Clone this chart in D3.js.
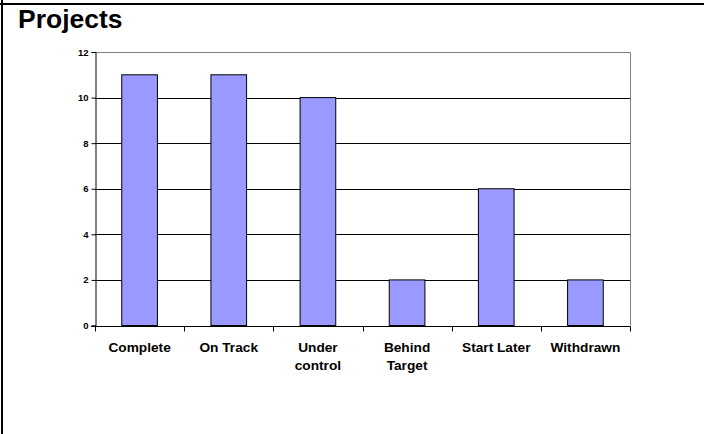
<!DOCTYPE html>
<html>
<head>
<meta charset="utf-8">
<script src="https://cdn.jsdelivr.net/npm/d3@7"></script>
<style>
  html, body { margin: 0; padding: 0; background: #fff; }
  svg { display: block; font-family: Arial, "Liberation Sans", sans-serif; }
</style>
</head>
<body>
<svg id="chart" width="704" height="434"></svg>
<script>
// Project status counts
const categories = ["Complete", "On Track", "Under control", "Behind Target", "Start Later", "Withdrawn"];
const categoryLines = [["Complete"], ["On Track"], ["Under", "control"], ["Behind", "Target"], ["Start Later"], ["Withdrawn"]];
const values = [11, 11, 10, 2, 6, 2];
const yTicks = [0, 2, 4, 6, 8, 10, 12];

const svg = d3.select("#chart");
const W = 704, H = 434;
const plot = { left: 95, right: 630, top: 52, bottom: 325.5 };

// Outer frame (top and left edges)
svg.append("line").attr("x1", 0).attr("x2", W).attr("y1", 4).attr("y2", 4)
  .attr("stroke", "#000").attr("stroke-width", 2);
svg.append("line").attr("x1", 2).attr("x2", 2).attr("y1", 0).attr("y2", H)
  .attr("stroke", "#000").attr("stroke-width", 2);

// Title
svg.append("text").attr("x", 18).attr("y", 28)
  .attr("font-size", 26.5).attr("font-weight", "bold").attr("fill", "#000")
  .text("Projects");

const x = d3.scaleBand().domain(categories).range([plot.left, plot.right]).paddingInner(0).paddingOuter(0);
const y = d3.scaleLinear().domain([0, 12]).range([plot.bottom, plot.top]);

// Horizontal gridlines
svg.append("g").selectAll("line").data(yTicks.filter(t => t > 0 && t < 12)).join("line")
  .attr("x1", plot.left).attr("x2", plot.right)
  .attr("y1", d => Math.round(y(d)) + 0.5).attr("y2", d => Math.round(y(d)) + 0.5)
  .attr("stroke", "#000").attr("stroke-width", 1);

// Plot area border (top and right)
svg.append("path")
  .attr("d", `M${plot.left},${Math.round(plot.top) + 0.5}H${plot.right + 0.5}V${plot.bottom}`)
  .attr("fill", "none").attr("stroke", "#808080").attr("stroke-width", 1);

// Bars
const barW = x.bandwidth() * 0.4;
svg.append("g").selectAll("rect").data(values).join("rect")
  .attr("x", (d, i) => x(categories[i]) + (x.bandwidth() - barW) / 2)
  .attr("width", barW)
  .attr("y", d => y(d))
  .attr("height", d => y(0) - y(d))
  .attr("fill", "#9999FF").attr("stroke", "#000").attr("stroke-width", 1);

// Y axis
const yAxis = d3.axisLeft(y).tickValues(yTicks).tickSize(4).tickPadding(3);
const gy = svg.append("g").attr("transform", `translate(${plot.left + 0.5},0)`).call(yAxis);
gy.select(".domain").attr("stroke", "#000");
gy.selectAll(".tick line").attr("stroke", "#000");
gy.selectAll(".tick text").attr("font-size", 9.5).attr("font-weight", "bold")
  .attr("font-family", "Arial, 'Liberation Sans', sans-serif").attr("fill", "#000");

// X axis with ticks at category boundaries
const gx = svg.append("g").attr("transform", `translate(0,${Math.round(plot.bottom) + 0.5})`);
gx.append("line").attr("x1", plot.left - 4).attr("x2", plot.right + 0.5).attr("y1", 0).attr("y2", 0)
  .attr("stroke", "#000");
const boundaries = categories.map(c => x(c)).concat([plot.right]);
gx.selectAll("line.tk").data(boundaries).join("line").attr("class", "tk")
  .attr("x1", d => Math.round(d) + 0.5).attr("x2", d => Math.round(d) + 0.5)
  .attr("y1", 0).attr("y2", 5).attr("stroke", "#000");

// Category labels
const lbl = gx.selectAll("text.cat").data(categories).join("text").attr("class", "cat")
  .attr("text-anchor", "middle").attr("font-size", 13.7).attr("font-weight", "bold").attr("fill", "#000");
lbl.each(function (c, i) {
  const t = d3.select(this);
  categoryLines[i].forEach((line, j) => {
    t.append("tspan").attr("x", x(c) + x.bandwidth() / 2).attr("y", 25 + j * 18).text(line);
  });
});
</script>
</body>
</html>
